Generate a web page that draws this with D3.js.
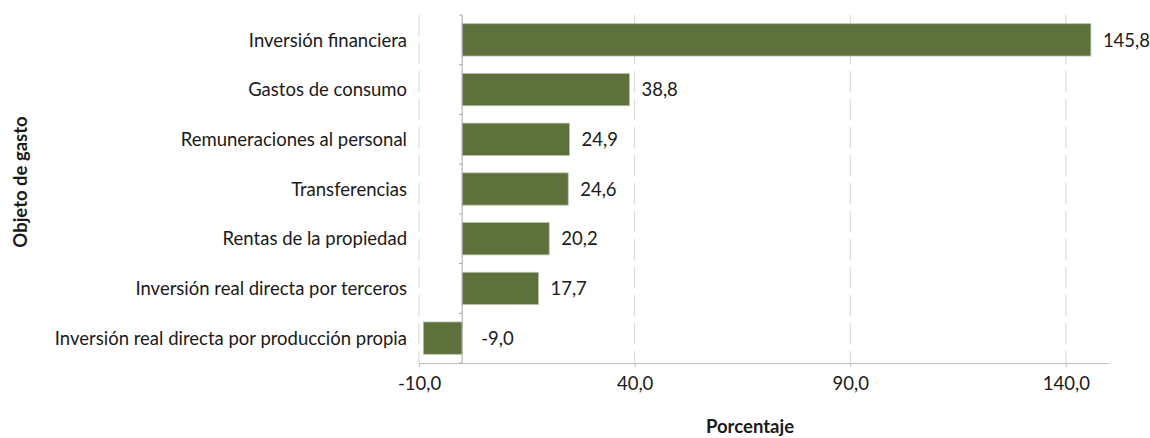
<!DOCTYPE html>
<html>
<head>
<meta charset="utf-8">
<script src="https://cdn.jsdelivr.net/npm/d3@7"></script>
<style>
  body { margin: 0; background: #fff; }
  svg text { font-family: Lato, "Open Sans", sans-serif; fill: #1a1a1a; }
</style>
</head>
<body>
<div id="chart"></div>
<script>
'use strict';

const categories = [
    "Inversión financiera",
    "Gastos de consumo",
    "Remuneraciones al personal",
    "Transferencias",
    "Rentas de la propiedad",
    "Inversión real directa por terceros",
    "Inversión real directa por producción propia"
];
const values = [145.8, 38.8, 24.9, 24.6, 20.2, 17.7, -9.0];
const xTicks = [-10, 40, 90, 140];

const width = 1150;
const height = 438;
const plot = { left: 419, right: 1109, top: 15, bottom: 363 };
const fontSize = "18.5px";

const fmt = v => v.toFixed(1).replace('.', ',');

const svg = d3.select("#chart")
    .append("svg")
    .attr("width", width)
    .attr("height", height);

const x = d3.scaleLinear().domain([-10, 150]).range([plot.left, plot.right]);
const y = d3.scaleBand().domain(categories).range([plot.top, plot.bottom])
    .paddingInner(0.35).paddingOuter(0.175);

// dashed vertical gridlines
svg.append("g")
    .selectAll("line")
    .data(xTicks)
    .join("line")
    .attr("x1", d => x(d)).attr("x2", d => x(d))
    .attr("y1", plot.top).attr("y2", plot.bottom)
    .attr("stroke", "#d4d4d4")
    .attr("stroke-width", 1)
    .attr("stroke-dasharray", "21,7");

// bars
svg.append("g")
    .selectAll("rect")
    .data(categories)
    .join("rect")
    .attr("x", (d, i) => x(Math.min(0, values[i])))
    .attr("y", d => y(d))
    .attr("width", (d, i) => Math.abs(x(values[i]) - x(0)))
    .attr("height", y.bandwidth())
    .attr("fill", "#5e713d")
    .attr("stroke", "#b9c2a8")
    .attr("stroke-width", 0.8);

// x axis
const xAxis = svg.append("g")
    .attr("transform", `translate(0,${plot.bottom})`)
    .call(d3.axisBottom(x).tickValues(xTicks).tickFormat(fmt).tickSize(4).tickSizeOuter(0));
xAxis.select(".domain").attr("stroke", "#bfbfbf");
xAxis.selectAll(".tick line").attr("stroke", "#bfbfbf");
xAxis.selectAll(".tick text")
    .attr("dy", null).attr("y", 27)
    .style("font-size", fontSize)
    .style("font-family", "Lato, sans-serif")
    .attr("fill", "#1a1a1a");

// vertical zero axis with category ticks
const bounds = d3.range(categories.length + 1)
    .map(i => plot.top + y.step() * y.paddingOuter() - y.step() * y.paddingInner() / 2 + i * y.step());
svg.append("line")
    .attr("x1", x(0)).attr("x2", x(0))
    .attr("y1", plot.top).attr("y2", plot.bottom)
    .attr("stroke", "#a6a6a6");
svg.append("g")
    .selectAll("line")
    .data(bounds)
    .join("line")
    .attr("x1", x(0) - 3).attr("x2", x(0))
    .attr("y1", d => d).attr("y2", d => d)
    .attr("stroke", "#a6a6a6");

// category labels
svg.append("g")
    .selectAll("text")
    .data(categories)
    .join("text")
    .attr("x", 407)
    .attr("y", d => y(d) + y.bandwidth() / 2)
    .attr("dy", "0.36em")
    .attr("text-anchor", "end")
    .style("font-size", fontSize)
    .text(d => d);

// value labels
svg.append("g")
    .selectAll("text")
    .data(values)
    .join("text")
    .attr("x", d => d >= 0 ? x(d) + 12 : x(0) + 19)
    .attr("y", (d, i) => y(categories[i]) + y.bandwidth() / 2)
    .attr("dy", "0.36em")
    .style("font-size", fontSize)
    .text(d => fmt(d));

// axis titles
svg.append("text")
    .attr("x", 750)
    .attr("y", 433)
    .attr("text-anchor", "middle")
    .style("font-size", fontSize)
    .style("font-weight", "bold")
    .text("Porcentaje");

svg.append("text")
    .attr("transform", "translate(26.5,182) rotate(-90)")
    .attr("text-anchor", "middle")
    .style("font-size", fontSize)
    .style("font-weight", "bold")
    .text("Objeto de gasto");
</script>
</body>
</html>
